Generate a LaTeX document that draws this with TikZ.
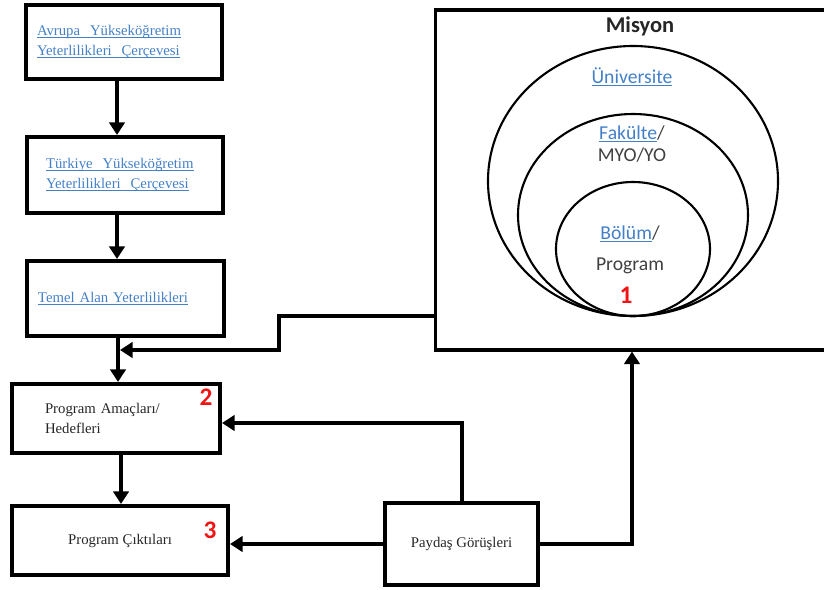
\documentclass[tikz,border=0pt]{standalone}
\usepackage{fontspec}
\setmainfont{Liberation Serif}
\newfontfamily\calfont{Carlito}
\usetikzlibrary{arrows.meta}
\definecolor{linkblue}{RGB}{68,128,200}
\definecolor{numred}{RGB}{240,20,20}
\newcommand{\lnk}[1]{\leavevmode{\color{linkblue}\setbox0\hbox{#1}\rlap{\rule[-1.6pt]{\wd0}{0.55pt}}\box0}}
\begin{document}
\begin{tikzpicture}[
  box/.style={draw, line width=2.9pt, font=\fontsize{10.5}{14}\selectfont, text=black!85},
  arr/.style={line width=3.2pt, -{Triangle[length=9pt,width=11pt]}},
  num/.style={font=\calfont\bfseries\fontsize{18}{18}\selectfont, text=numred},
  circ/.style={line width=1.5pt},
  circtext/.style={font=\calfont\fontsize{14}{16}\selectfont, text=black!75}
]
\clip (0,0) rectangle (20.6,-14.75);

% left column
\node[box, minimum width=4.9cm, minimum height=1.85cm, text width=4.35cm, align=left] (avrupa) at (3.1,-1.05)
  {\lnk{Avrupa\ \ Yükseköğretim}\\ \lnk{Yeterlilikleri\ \ Çerçevesi}};
\node[box, minimum width=4.9cm, minimum height=1.9cm, text width=3.95cm, align=left] (turkiye) at (3.125,-4.375)
  {\lnk{Türkiye\ \ Yükseköğretim}\\ \lnk{Yeterlilikleri\ \ Çerçevesi}};
\node[box, minimum width=4.925cm, minimum height=1.875cm, text width=4.375cm, align=left] (temel) at (3.1375,-7.4625)
  {\lnk{Temel\ Alan\ Yeterlilikleri}};
\node[box, minimum width=5.2cm, minimum height=1.725cm, text width=3.55cm, align=left] (amac) at (2.9,-10.4625)
  {Program Amaçları/\\ Hedefleri};
\node[box, minimum width=5.4cm, minimum height=1.725cm, align=center] (cikti) at (3.0,-13.5125)
  {Program Çıktıları};
\node[box, minimum width=3.825cm, minimum height=2.05cm, align=center] (paydas) at (11.5375,-13.6)
  {Paydaş Görüşleri};

% misyon
\node[draw, line width=2.2pt, minimum width=10.125cm, minimum height=8.5cm] (misyon) at (15.94,-4.5) {};
\node[font=\calfont\bfseries\fontsize{16}{16}\selectfont, text=black!85] (baslik) at (16.0,-0.66) {Misyon};
\draw[circ] (15.825,-4.525) ellipse [x radius=3.625, y radius=3.375];
\draw[circ] (15.825,-5.375) ellipse [x radius=2.875, y radius=2.525];
\draw[circ] (15.825,-6.225) ellipse [x radius=1.925, y radius=1.675];
\node[circtext] (univ) at (15.8,-1.925) {\lnk{Üniversite}};
\node[circtext, align=center] (fak) at (15.8,-3.6) {\lnk{Fakülte}/\\MYO/YO};
\node[circtext, align=center] (bol) at (15.75,-6.25) {\lnk{Bölüm}/\\[6pt]Program};

\node[num] (n1) at (15.65,-7.375) {1};
\node[num] (n2) at (5.15,-9.925) {2};
\node[num] (n3) at (5.25,-13.25) {3};

% connectors
\coordinate (spine) at (2.925,0);
\coordinate (spine2) at (2.95,0);
\coordinate (spine3) at (3.025,0);
\draw[arr] (avrupa.south -| spine) -- (turkiye.north -| spine);
\draw[arr] (turkiye.south -| spine) -- (temel.north -| spine);
\draw[arr] (temel.south -| spine2) -- (amac.north -| spine2);
\draw[arr] (amac.south -| spine3) -- (cikti.north -| spine3);

\coordinate (jog) at (6.975,-7.9);
\coordinate (merge) at (3.0,-8.75);
\draw[arr] (misyon.west |- jog) -- (jog) |- (merge);

\coordinate (fb) at (11.55,-10.575);
\draw[arr] (paydas.north -| fb) -- (fb) -- (amac.east |- fb);
\draw[arr] (paydas.west) -- (cikti.east |- paydas.west);
\coordinate (up) at (15.8,0);
\draw[arr] (paydas.east) -| (misyon.south -| up);
\end{tikzpicture}
\end{document}
